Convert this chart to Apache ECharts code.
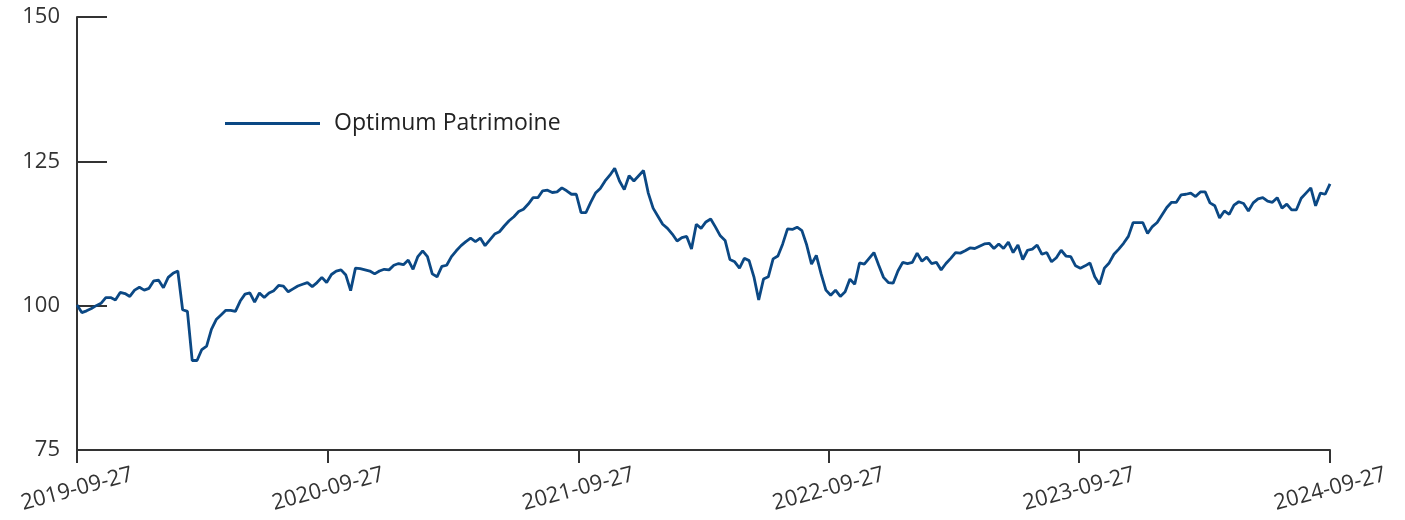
<!DOCTYPE html>
<html>
<head>
<meta charset="utf-8">
<script src="https://cdn.jsdelivr.net/npm/echarts@6/dist/echarts.min.js"></script>
<style>
html,body{margin:0;padding:0;background:#fff;}
#chart{width:1405px;height:520px;}
</style>
</head>
<body>
<div id="chart"></div>
<script>
// ---- data ----
var seriesName = 'Optimum Patrimoine';
var startDate = '2019-09-27';           // weekly observations from this date
var xTickLabels = ['2019-09-27','2020-09-27','2021-09-27','2022-09-27','2023-09-27','2024-09-27'];
var yTicks = [75, 100, 125, 150];
var values = [
100.1, 98.8, 99.1, 99.5, 100.0, 100.4, 101.4, 101.4, 101.0, 102.3,
102.1, 101.6, 102.7, 103.2, 102.7, 103.0, 104.3, 104.4, 103.1, 104.9,
105.6, 106.0, 99.3, 99.0, 90.5, 90.5, 92.4, 93.0, 95.9, 97.6,
98.4, 99.2, 99.2, 99.0, 100.8, 102.0, 102.2, 100.6, 102.2, 101.4,
102.2, 102.6, 103.5, 103.4, 102.4, 102.9, 103.4, 103.7, 104.0, 103.3,
104.0, 104.9, 104.0, 105.4, 106.0, 106.2, 105.3, 102.6, 106.5, 106.4,
106.2, 106.0, 105.5, 106.0, 106.3, 106.2,
107.0, 107.3, 107.1, 107.9, 106.3, 108.5, 109.5, 108.5, 105.5, 105.0,
106.8, 107.0, 108.5, 109.5, 110.4, 111.1, 111.7, 111.1, 111.7, 110.4,
111.4, 112.4, 112.8, 113.8, 114.7, 115.4, 116.3, 116.7, 117.6, 118.7,
118.7, 119.9, 120.0, 119.6, 119.7, 120.4, 119.9, 119.3, 119.3, 116.1,
116.1, 117.9, 119.5, 120.3, 121.6, 122.6, 123.8, 121.6, 120.1, 122.5,
121.6, 122.5, 123.4, 119.5, 116.9, 115.5, 114.1, 113.4, 112.4, 111.2,
111.8, 112.0, 109.8, 114.1,
113.4, 114.5, 115.0, 113.6, 112.1, 111.3, 108.0, 107.6, 106.5, 108.2,
107.8, 105.0, 101.0, 104.6, 105.0, 108.1, 108.6, 110.7, 113.3, 113.2,
113.6, 113.0, 110.5, 107.2, 108.7, 105.5, 102.7, 101.8, 102.7, 101.6,
102.4, 104.6, 103.7, 107.4, 107.2, 108.2, 109.2, 107.0, 104.9, 104.0,
103.9, 106.0, 107.5, 107.3, 107.5, 109.1, 107.7, 108.4, 107.3, 107.5,
106.2, 107.3, 108.2, 109.2, 109.1, 109.5, 110.0, 109.9, 110.3, 110.7,
110.8, 109.9, 110.7, 109.9, 111.0,
109.2, 110.5, 108.0, 109.6, 109.8, 110.5, 108.9, 109.2, 107.6, 108.3,
109.6, 108.6, 108.5, 106.9, 106.5, 106.9, 107.4, 105.0, 103.7, 106.5,
107.4, 108.9, 109.8, 110.8, 112.0, 114.4, 114.4, 114.4, 112.5, 113.7,
114.4, 115.7, 117.0, 117.9, 117.9, 119.2, 119.3, 119.5, 118.9, 119.7,
119.7, 117.8, 117.3, 115.2, 116.4, 115.8, 117.4, 118.0, 117.7, 116.4,
117.8, 118.5, 118.7, 118.1, 117.9, 118.7, 116.9, 117.6, 116.6, 116.6,
118.6, 119.5, 120.4, 117.3, 119.5, 119.3, 121.1
];

// ---- build ----
function toTs(s){ var p = s.split('-'); return Date.UTC(+p[0], +p[1]-1, +p[2]); }
function pad(n){ return (n < 10 ? '0' : '') + n; }
function fmt(ts){ var d = new Date(ts); return d.getUTCFullYear() + '-' + pad(d.getUTCMonth()+1) + '-' + pad(d.getUTCDate()); }
var DAY = 86400000;
var t0 = toTs(startDate);
var seriesData = values.map(function(v, i){ return [t0 + i*7*DAY, v]; });
var xTicks = xTickLabels.map(toTs);

var FONT = 'Open Sans';
var AXIS_COLOR = '#333';
var chart = echarts.init(document.getElementById('chart'), null, {renderer: 'canvas'});
chart.setOption({
  animation: false,
  backgroundColor: '#fff',
  grid: {left: 77, right: 75, top: 17, bottom: 70, containLabel: false},
  legend: {
    show: true,
    left: 225, top: 112,
    padding: 0,
    icon: 'rect',
    itemWidth: 95, itemHeight: 3,
    data: [seriesName],
    textStyle: {fontFamily: FONT, fontSize: 23, color: '#222', padding: [0,0,0,9]}
  },
  xAxis: {
    type: 'value',
    min: xTicks[0], max: xTicks[xTicks.length-1],
    splitLine: {show: false},
    axisLine: {show: true, lineStyle: {color: AXIS_COLOR, width: 2}},
    axisTick: {show: true, length: 13, lineStyle: {color: AXIS_COLOR, width: 2}, customValues: xTicks},
    axisLabel: {
      customValues: xTicks,
      rotate: 15, align: 'center', verticalAlign: 'middle', margin: 39,
      fontFamily: FONT, fontSize: 22, color: '#333',
      formatter: function(v){ return fmt(v); }
    }
  },
  yAxis: {
    type: 'value',
    min: yTicks[0], max: yTicks[yTicks.length-1], interval: 25,
    splitLine: {show: false},
    axisLine: {show: true, lineStyle: {color: AXIS_COLOR, width: 2}},
    axisTick: {show: true, inside: true, length: 30, lineStyle: {color: AXIS_COLOR, width: 2}},
    axisLabel: {margin: 17, fontFamily: FONT, fontSize: 22, color: '#333'}
  },
  series: [{
    name: seriesName,
    type: 'line',
    data: seriesData,
    showSymbol: false,
    symbol: 'none',
    color: '#0b4884',
    lineStyle: {color: '#0b4884', width: 2.8},
    z: 3
  }]
});
</script>
</body>
</html>
